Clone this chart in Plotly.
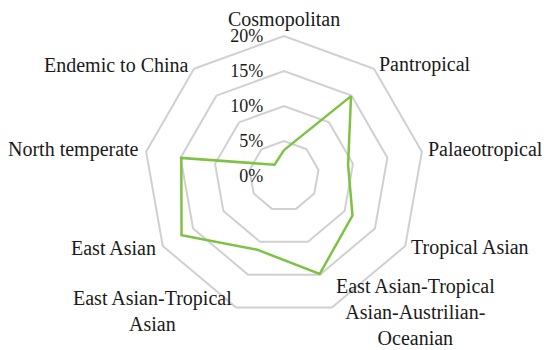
import math
import plotly.graph_objects as go

categories = [
    "Cosmopolitan",
    "Pantropical",
    "Palaeotropical",
    "Tropical Asian",
    "East Asian-Tropical<br>Asian-Austrilian-<br>Oceanian",
    "East Asian-Tropical<br>Asian",
    "East Asian",
    "North temperate",
    "Endemic to China",
]
values = [3.7, 14.9, 9.3, 11.3, 14.9, 11.2, 16.9, 14.9, 2.1]
tick_vals = [0, 5, 10, 15, 20]
tick_text = ["0%", "5%", "10%", "15%", "20%"]

font_family = "Palatino Linotype, Book Antiqua, Liberation Serif, serif"
text_color = "#1a1a1a"

W, H = 550, 350
# the page body adds an 8px margin, so positions are shifted to compensate
page_off = 8
cx, cy, R = 284 - page_off, 176 - page_off, 140
r_max = 20

# label placement style: (xanchor, dx, dy) relative to the outer-ring vertex
label_style = [
    ("center", 0, -17),
    ("left", 4, -4),
    ("left", 5, -2),
    ("left", 5, 2),
    ("left", 3, 4),
    ("right", -3, 3),
    ("right", -6, 2),
    ("right", -6, -2),
    ("right", -4, -4),
]

fig = go.Figure()
fig.add_trace(go.Scatterpolar(
    r=values + [values[0]],
    theta=categories + [categories[0]],
    mode="lines",
    line=dict(color="#7DC243", width=2.5),
    showlegend=False,
    hoverinfo="skip",
))

annotations = []
n = len(categories)
for i, (cat, (xa, dx, dy)) in enumerate(zip(categories, label_style)):
    ang = math.radians(360.0 * i / n)
    vx = cx + R * math.sin(ang)
    vy = cy - R * math.cos(ang)
    annotations.append(dict(
        text=cat,
        x=(vx + dx) / W,
        y=1 - (vy + dy) / H,
        xref="paper", yref="paper",
        xanchor=xa, yanchor="middle",
        align="center",
        showarrow=False,
        borderpad=0,
        font=dict(family=font_family, size=20, color=text_color),
    ))

fig.update_layout(
    width=W, height=H,
    margin=dict(l=0, r=0, t=0, b=0),
    paper_bgcolor="white",
    plot_bgcolor="white",
    font=dict(family=font_family, size=20, color=text_color),
    annotations=annotations,
    polar=dict(
        domain=dict(x=[(cx - R) / W, (cx + R) / W],
                    y=[1 - (cy + R) / H, 1 - (cy - R) / H]),
        bgcolor="white",
        gridshape="linear",
        angularaxis=dict(
            direction="clockwise",
            rotation=90,
            showgrid=False,
            showline=True,
            linecolor="#D0D0D0",
            linewidth=2,
            ticks="",
            showticklabels=False,
        ),
        radialaxis=dict(
            range=[0, r_max],
            angle=90,
            tickangle=90,
            tickvals=tick_vals,
            ticktext=tick_text,
            showline=False,
            ticks="outside",
            ticklen=14,
            tickcolor="rgba(0,0,0,0)",
            gridcolor="#D0D0D0",
            gridwidth=2,
            side="counterclockwise",
            tickfont=dict(size=18, family=font_family, color=text_color),
        ),
    ),
)

fig.write_html("out.html")
